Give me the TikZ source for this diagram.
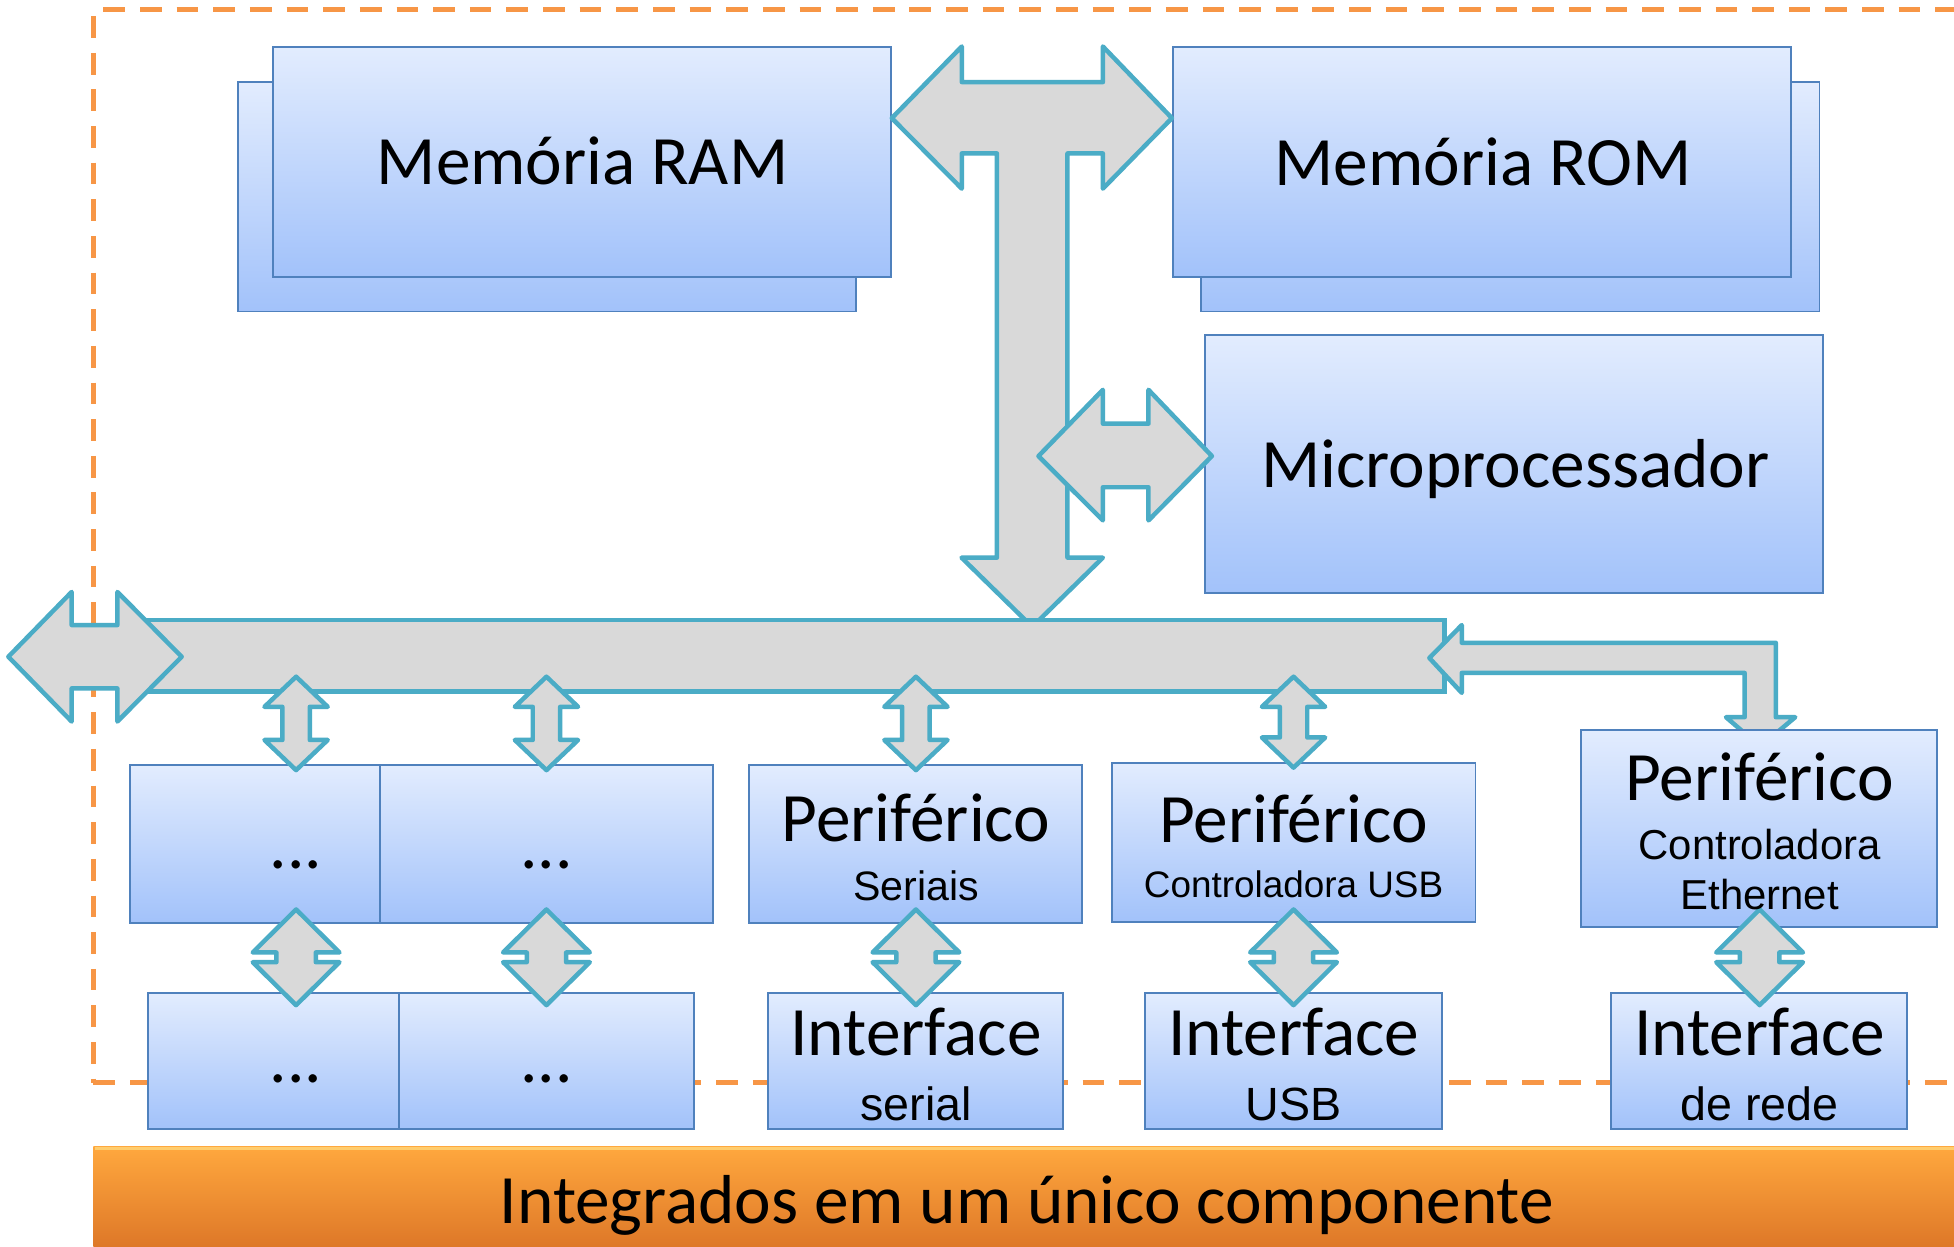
\documentclass[tikz,border=0pt]{standalone}
\usepackage{fontspec}
\setmainfont{Carlito}
\newfontfamily\arialf{Liberation Sans}
\usetikzlibrary{fit}
\definecolor{boxtop}{RGB}{226,236,254}
\definecolor{boxbot}{RGB}{162,194,250}
\definecolor{boxline}{RGB}{79,129,189}
\definecolor{arrline}{RGB}{75,172,198}
\definecolor{arrfill}{RGB}{217,217,217}
\definecolor{frameor}{RGB}{247,150,70}
\definecolor{bartop}{RGB}{255,168,62}
\definecolor{barmid}{RGB}{250,148,48}
\definecolor{barbot}{RGB}{222,120,40}
\definecolor{barhl}{RGB}{255,205,110}
\tikzset{
  bbox/.style={draw=boxline, line width=0.75pt, top color=boxtop, bottom color=boxbot, inner sep=0pt},
  barrow/.style={draw=arrline, fill=arrfill, line width=1.8pt, line join=round},
  bigtxt/.style={anchor=base, inner sep=0pt, font=\fontsize{27.8}{30}\selectfont},
  smalltxt/.style={anchor=base, inner sep=0pt, font=\arialf\fontsize{#1}{#1}\selectfont},
  frameline/.style={draw=frameor, line width=2pt, dash pattern=on 8.7pt off 6pt},
}
\newcommand{\vdarrow}[6]{%
  \draw[barrow] (#1,#2) -- ({#1+#5},{#2+#4}) -- ({#1+#6},{#2+#4}) -- ({#1+#6},{#3-#4})
   -- ({#1+#5},{#3-#4}) -- (#1,#3) -- ({#1-#5},{#3-#4}) -- ({#1-#6},{#3-#4})
   -- ({#1-#6},{#2+#4}) -- ({#1-#5},{#2+#4}) -- cycle;}
\begin{document}
\begin{tikzpicture}[x=0.5pt,y=-0.5pt]
\useasboundingbox (0,0) rectangle (1568,1000);
\clip (0,0) rectangle (1568,1000);
\fill[white] (0,0) rectangle (1568,1000);

% dashed frame
\draw[frameline] (75,13) -- (75,869);
\draw[frameline] (83,7.5) -- (1600,7.5);
\draw[frameline] (75,869) -- (1600,869);

% memories and CPU
\node[bbox, fit={(191,66)(687,250)}] (ramB) {};
\node[bbox, fit={(219,38)(715,222)}] (ramF) {};
\node[bbox, fit={(964,66)(1460,250)}] (romB) {};
\node[bbox, fit={(941,38)(1437,222)}] (romF) {};
\node[bbox, fit={(967,269)(1463,476)}] (cpu) {};

% T-shaped bus arrow
\draw[barrow] (715.6,94.8) -- (771.8,37.3) -- (771.8,65.9) -- (885,65.9) -- (885,37.3)
  -- (940.4,94.8) -- (885,151.4) -- (885,123.1) -- (856.6,123.1) -- (856.6,447.5)
  -- (885,447.5) -- (828.3,503) -- (771.6,447.5) -- (800,447.5) -- (800,123.1)
  -- (771.8,123.1) -- (771.8,151.4) -- cycle;
% CPU arrow
\draw[barrow] (833.3,366) -- (885,312.8) -- (885,340) -- (921.6,340) -- (921.6,312.8)
  -- (972.5,366) -- (921.6,417.6) -- (921.6,391) -- (885,391) -- (885,417.6) -- cycle;

% main bus
\node[fit={(110,497.6)(1159,555)}, inner sep=0pt, draw=arrline, fill=arrfill, line width=1.8pt] (bus) {};
\draw[barrow] (6.7,527) -- (57.5,475) -- (57.5,501.6) -- (94.2,501.6) -- (94.2,475)
  -- (145.8,527) -- (94.2,579) -- (94.2,552.4) -- (57.5,552.4) -- (57.5,579) -- cycle;
% Ethernet bent arrow
\draw[barrow] (1147,528) -- (1173,501.6) -- (1173,515.8) -- (1425,515.8) -- (1425,575.5)
  -- (1440.6,575.5) -- (1412.5,599) -- (1385,575.5) -- (1400,575.5) -- (1400,540)
  -- (1173,540) -- (1173,556) -- cycle;

% row 1
\node[bbox, fit={(104,614)(305,741)}] (pA) {};
\node[bbox, fit={(305,614)(572,741)}] (pB) {};
\node[bbox, fit={(601,614)(868,741)}] (pSer) {};
\node[bbox, fit={(892,612)(1184,740)}] (pUsb) {};
\node[bbox, fit={(1269,586)(1554,744)}] (pEth) {};
% row 2
\node[bbox, fit={(119,797)(355,906)}] (iA) {};
\node[bbox, fit={(320,797)(557,906)}] (iB) {};
\node[bbox, fit={(616,797)(853,906)}] (iSer) {};
\node[bbox, fit={(919,797)(1157,906)}] (iUsb) {};
\node[bbox, fit={(1293,797)(1530,906)}] (iNet) {};

% small bus arrows
\vdarrow{237.6}{543}{618}{24.2}{25.4}{11}
\vdarrow{438.5}{543}{618}{24.2}{25.4}{11}
\vdarrow{735}{543}{618}{24.2}{25.4}{11}
\vdarrow{1038}{543}{616}{24.2}{25.4}{11}
% middle arrows
\vdarrow{237.6}{729.8}{806.6}{34.5}{34.8}{15.8}
\vdarrow{438.5}{729.8}{806.6}{34.5}{34.8}{15.8}
\vdarrow{735}{729.8}{806.6}{34.5}{34.8}{15.8}
\vdarrow{1038}{729.8}{806.6}{34.5}{34.8}{15.8}
\vdarrow{1412}{729.8}{806.6}{34.5}{34.8}{15.8}

% orange bar
\node[fit={(75,920)(1600,1000)}, inner sep=0pt, top color=bartop, middle color=barmid, bottom color=barbot] (bar) {};
\draw[barhl, line width=1.2pt] (76,921.5) -- (1600,921.5);

% texts
\node[bigtxt] (tram) at (467.5,147.7) {Memória RAM};
\node[bigtxt] (trom) at (1190,148.5) {Memória ROM};
\node[bigtxt] (tcpu) at (1216,391) {Microprocessador};
\node[bigtxt] (tdA) at (237.6,697) {...};
\node[bigtxt] (tdB) at (438.5,697) {...};
\node[bigtxt] (tdC) at (237.6,869) {...};
\node[bigtxt] (tdD) at (438.5,869) {...};
\node[bigtxt] (tpS) at (735,675.5) {Periférico};
\node[smalltxt=16.5] (tpS2) at (735,723) {Seriais};
\node[bigtxt] (tpU) at (1038,676) {Periférico};
\node[smalltxt=14.8] (tpU2) at (1038,720.5) {Controladora USB};
\node[bigtxt] (tpE) at (1412,642) {Periférico};
\node[smalltxt=16.8] (tpE2) at (1412,690) {Controladora};
\node[smalltxt=16.8] (tpE3) at (1412,730) {Ethernet};
\node[bigtxt] (tiS) at (735,847) {Interface};
\node[smalltxt=18.7] (tiS2) at (735,899) {serial};
\node[bigtxt] (tiU) at (1038,847) {Interface};
\node[smalltxt=18.7] (tiU2) at (1038,899) {USB};
\node[bigtxt] (tiN) at (1412,847) {Interface};
\node[smalltxt=18.7] (tiN2) at (1412,899) {de rede};
\node[bigtxt] (tbar) at (824,982) {Integrados em um único componente};
\end{tikzpicture}
\end{document}
